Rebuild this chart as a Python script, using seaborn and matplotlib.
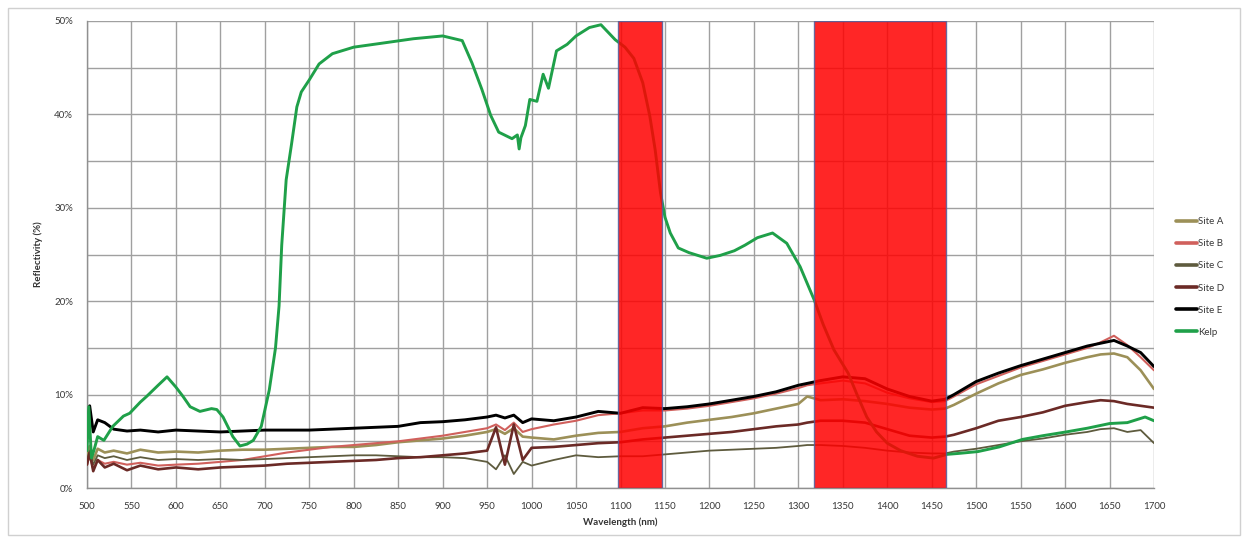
import pandas as pd
import numpy as np
import matplotlib
matplotlib.use("Agg")
import matplotlib.pyplot as plt
import seaborn as sns
from matplotlib.patches import Rectangle

# wavelength grid used for the five sites (nm)
wl = [500, 503, 507, 512, 520, 530, 545, 560, 580, 600,
      625, 650, 675, 700, 725, 750, 775, 800, 825, 850,
      875, 900, 925, 950, 960, 970, 980, 990, 1000, 1025,
      1050, 1075, 1100, 1125, 1150, 1175, 1200, 1225, 1250, 1275,
      1300, 1310, 1325, 1350, 1375, 1400, 1425, 1450, 1465, 1475,
      1500, 1525, 1550, 1575, 1600, 1625, 1640, 1655, 1670, 1685,
      1700]

site_a = [3.5, 4.5, 3.0, 4.2, 3.8, 4.0, 3.7, 4.1, 3.8, 3.9,
          3.8, 4.0, 4.1, 4.1, 4.2, 4.3, 4.4, 4.4, 4.6, 4.9,
          5.1, 5.3, 5.6, 6.0, 6.3, 5.8, 6.4, 5.5, 5.4, 5.2,
          5.6, 5.9, 6.0, 6.4, 6.6, 7.0, 7.3, 7.6, 8.0, 8.5,
          9.0, 9.8, 9.4, 9.5, 9.3, 9.0, 8.6, 8.4, 8.5, 8.9,
          10.1, 11.2, 12.1, 12.7, 13.4, 14.0, 14.3, 14.4, 14.0, 12.6,
          10.6]

site_b = [2.5, 3.5, 2.0, 3.0, 2.6, 2.8, 2.5, 2.7, 2.4, 2.5,
          2.6, 2.8, 3.0, 3.4, 3.8, 4.1, 4.4, 4.6, 4.8, 5.0,
          5.3, 5.6, 6.0, 6.4, 6.8, 6.2, 7.0, 6.0, 6.3, 6.8,
          7.2, 7.8, 8.0, 8.3, 8.3, 8.5, 8.8, 9.2, 9.6, 10.1,
          10.7, 11.0, 11.2, 11.5, 11.2, 10.2, 9.6, 9.2, 9.3, 9.8,
          11.1, 12.0, 12.9, 13.6, 14.3, 15.0, 15.6, 16.3, 15.3, 14.0,
          12.6]

site_c = [3.0, 4.0, 2.5, 3.5, 3.2, 3.4, 3.0, 3.3, 3.0, 3.1,
          3.0, 3.1, 3.0, 3.1, 3.2, 3.3, 3.4, 3.5, 3.5, 3.4,
          3.3, 3.3, 3.2, 2.8, 2.0, 3.5, 1.5, 2.8, 2.4, 3.0,
          3.5, 3.3, 3.4, 3.4, 3.6, 3.8, 4.0, 4.1, 4.2, 4.3,
          4.5, 4.6, 4.6, 4.5, 4.3, 4.0, 3.8, 3.7, 3.7, 3.9,
          4.2, 4.6, 5.0, 5.3, 5.7, 6.0, 6.3, 6.4, 6.0, 6.2,
          4.8]

site_d = [2.5, 3.8, 1.8, 3.0, 2.2, 2.6, 1.9, 2.4, 2.0, 2.2,
          2.0, 2.2, 2.3, 2.4, 2.6, 2.7, 2.8, 2.9, 3.0, 3.2,
          3.3, 3.5, 3.7, 4.0, 6.5, 2.5, 6.8, 3.0, 4.3, 4.4,
          4.6, 4.8, 4.9, 5.2, 5.4, 5.6, 5.8, 6.0, 6.3, 6.6,
          6.8, 7.0, 7.2, 7.2, 7.0, 6.3, 5.6, 5.4, 5.5, 5.7,
          6.4, 7.2, 7.6, 8.1, 8.8, 9.2, 9.4, 9.3, 9.0, 8.8,
          8.6]

site_e = [5.5, 8.8, 6.0, 7.3, 7.0, 6.3, 6.1, 6.2, 6.0, 6.2,
          6.1, 6.0, 6.1, 6.2, 6.2, 6.2, 6.3, 6.4, 6.5, 6.6,
          7.0, 7.1, 7.3, 7.6, 7.8, 7.5, 7.8, 7.0, 7.4, 7.2,
          7.6, 8.2, 8.0, 8.6, 8.5, 8.7, 9.0, 9.4, 9.8, 10.3,
          11.0, 11.2, 11.5, 11.9, 11.7, 10.6, 9.8, 9.3, 9.5, 10.0,
          11.4, 12.3, 13.1, 13.8, 14.5, 15.2, 15.5, 15.8, 15.2, 14.5,
          13.0]

kelp_wl = [500, 502, 505, 508, 512, 519, 529, 541, 548, 560,
           567, 580, 590, 600, 608, 616, 627, 640, 646, 653,
           664, 672, 680, 687, 696, 705, 712, 716, 719, 724,
           730, 736, 741, 750, 761, 776, 800, 830, 867, 900,
           922, 933, 944, 954, 963, 978, 984, 986, 988, 993,
           998, 1006, 1013, 1019, 1028, 1040, 1050, 1065, 1078, 1094,
           1105, 1115, 1125, 1133, 1139, 1145, 1150, 1156, 1165, 1177,
           1197, 1212, 1228, 1240, 1254, 1271, 1287, 1302, 1318, 1328,
           1340, 1356, 1366, 1377, 1388, 1400, 1415, 1434, 1452, 1467,
           1480, 1502, 1526, 1552, 1575, 1601, 1625, 1650, 1670, 1690,
           1700]
kelp = [4.0, 8.7, 3.2, 4.1, 5.5, 5.1, 6.6, 7.7, 8.0, 9.2,
        9.8, 11.0, 11.9, 10.8, 9.8, 8.7, 8.2, 8.5, 8.4, 7.6,
        5.5, 4.5, 4.7, 5.1, 6.6, 10.5, 15.0, 19.5, 26.0, 33.0,
        36.8, 40.8, 42.4, 43.7, 45.4, 46.5, 47.2, 47.6, 48.1, 48.4,
        47.9, 45.5, 42.7, 39.9, 38.1, 37.4, 37.8, 36.3, 37.5, 38.8,
        41.6, 41.4, 44.3, 42.8, 46.8, 47.5, 48.4, 49.3, 49.6, 48.0,
        47.2, 46.0, 43.4, 39.8, 36.2, 31.6, 29.0, 27.3, 25.7, 25.2,
        24.6, 24.9, 25.4, 26.0, 26.8, 27.3, 26.2, 23.7, 20.1, 17.5,
        14.8, 12.3, 10.0, 7.6, 6.0, 4.8, 4.0, 3.4, 3.2, 3.6,
        3.7, 3.9, 4.4, 5.2, 5.6, 6.0, 6.4, 6.9, 7.0, 7.6,
        7.2]

# masked bands (nm)
bands = [(1097, 1147), (1318, 1466)]

series = {
    "Site A": (wl, site_a),
    "Site B": (wl, site_b),
    "Site C": (wl, site_c),
    "Site D": (wl, site_d),
    "Site E": (wl, site_e),
    "Kelp": (kelp_wl, kelp),
}
colors = {"Site A": "#9c9058", "Site B": "#d0605c", "Site C": "#5e5b3e",
          "Site D": "#6b2a26", "Site E": "#000000", "Kelp": "#1fa049"}
widths = {"Site A": 1.9, "Site B": 1.5, "Site C": 1.3,
          "Site D": 1.9, "Site E": 2.1, "Kelp": 2.1}

sns.set_theme(style="white")
plt.rcParams["font.family"] = ["Lato", "DejaVu Sans"]

fig = plt.figure(figsize=(12.44, 5.43), dpi=100)
ax = fig.add_axes([87 / 1244, 1 - 488 / 543, (1154 - 87) / 1244, (488 - 21) / 543])

for name, (x, y) in series.items():
    df = pd.DataFrame({"Wavelength": x, "Reflectivity": y})
    sns.lineplot(df, x="Wavelength", y="Reflectivity", ax=ax, color=colors[name],
                 linewidth=widths[name], label=name, zorder=3)

for lo, hi in bands:
    ax.axvspan(lo, hi, facecolor="#ff0000", edgecolor="#5060a0", alpha=0.85,
               linewidth=1, zorder=5)

ax.set_xlim(500, 1700)
ax.set_ylim(0, 50)
ax.set_xticks(range(500, 1701, 50))
ax.set_yticks(range(0, 51, 10))
ax.set_yticks(range(5, 50, 10), minor=True)
ax.set_yticklabels([f"{v}%" for v in range(0, 51, 10)])
ax.grid(True, which="both", color="#a0a0a0", linewidth=1)
ax.set_axisbelow(True)
ax.tick_params(axis="both", which="major", direction="out", length=4, width=1,
               color="#909090", labelsize=7, labelcolor="#383838", pad=6)
ax.tick_params(axis="y", which="minor", length=0)
for s in ["top", "right"]:
    ax.spines[s].set_visible(False)
for s in ["left", "bottom"]:
    ax.spines[s].set_color("#909090")
    ax.spines[s].set_linewidth(1)

ax.set_xlabel("Wavelength (nm)", fontsize=7, fontweight="bold", color="#333333", labelpad=5)
ax.set_ylabel("Reflectivity (%)", fontsize=7, fontweight="bold", color="#333333", labelpad=8)

handles, labels = ax.get_legend_handles_labels()
leg = ax.legend(handles, labels, loc="center left", bbox_to_anchor=(1172 / 1244, 1 - 277 / 543),
                bbox_transform=fig.transFigure, frameon=False, fontsize=7, handlelength=2.2,
                handletextpad=0.1, labelspacing=1.35, borderaxespad=0, labelcolor="#383838")
for line in leg.get_lines():
    line.set_linewidth(2.6)

fig.patches.append(Rectangle((8 / 1244, 8 / 543), 1232 / 1244, 527 / 543,
                             transform=fig.transFigure, fill=False,
                             edgecolor="#d0d0d0", linewidth=1))

fig.savefig("out.png", dpi=100)
